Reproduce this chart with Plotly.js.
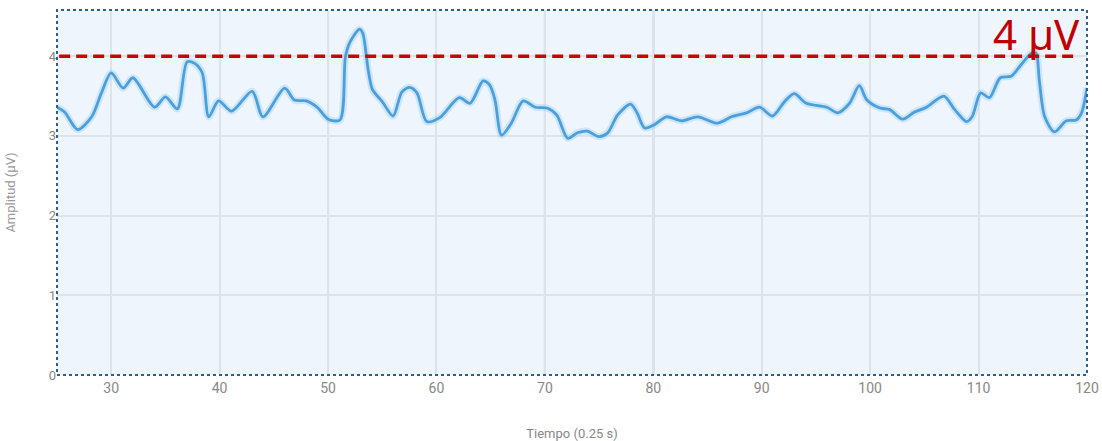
<!DOCTYPE html>
<html>
<head>
<meta charset="utf-8">
<script src="https://cdn.plot.ly/plotly-3.0.1.min.js"></script>
<style>html,body{margin:0;padding:0;background:#fff;}#chart{width:1102px;height:441px;}</style>
</head>
<body>
<div id="chart"></div>
<script>
var tiempo = [25,25.7,26.9,28.2,29.1,30.0,31.1,32.0,34.0,35.0,36.1,37.0,37.7,38.4,39.0,39.9,41.1,43.0,44.0,46.0,46.9,48.0,49.0,50.0,51.1,51.6,52.0,52.9,53.2,53.7,54.1,55.0,56.0,56.8,57.5,58.2,59.1,60.3,62.1,63.1,64.3,64.9,65.4,66.0,66.9,68.0,69.1,70.2,71.1,72.1,73.0,73.9,75.0,75.8,76.7,77.9,78.5,79.2,80.1,81.2,82.6,84.1,85.9,87.2,88.6,89.8,91.0,92.1,93.0,94.1,96.0,97.0,98.1,99.0,99.7,100.9,101.8,103.0,104.1,105.2,106.8,107.8,108.9,109.4,110.2,111.0,112.0,113.0,113.9,114.9,115.3,115.6,116.1,117.0,118.1,119.0,119.5,120.0];
var amplitud = [3.36,3.30,3.08,3.24,3.54,3.79,3.60,3.73,3.36,3.49,3.34,3.93,3.91,3.79,3.24,3.44,3.31,3.56,3.24,3.60,3.45,3.44,3.36,3.21,3.20,3.99,4.17,4.34,4.29,3.83,3.58,3.43,3.25,3.55,3.61,3.54,3.18,3.23,3.48,3.41,3.69,3.64,3.45,3.01,3.16,3.44,3.36,3.35,3.26,2.97,3.04,3.06,2.99,3.04,3.26,3.40,3.29,3.10,3.14,3.24,3.19,3.24,3.16,3.24,3.29,3.36,3.25,3.43,3.53,3.41,3.36,3.29,3.41,3.63,3.45,3.35,3.33,3.21,3.30,3.36,3.50,3.33,3.18,3.24,3.54,3.48,3.73,3.75,3.89,4.04,4.04,3.70,3.24,3.05,3.19,3.20,3.29,3.60];
var umbral = 4;
var umbralTexto = "4 µV";
var xTicks = [30,40,50,60,70,80,90,100,110,120];
var yTicks = [0,1,2,3,4];
var marcas = [50,70,80];

var traces = [
  {x: tiempo, y: amplitud, type: 'scatter', mode: 'lines', hoverinfo: 'skip',
   line: {color: 'rgba(140,200,245,0.35)', width: 7, shape: 'spline', smoothing: 0.8}},
  {x: tiempo, y: amplitud, type: 'scatter', mode: 'lines',
   line: {color: '#4a9fdc', width: 2.8, shape: 'spline', smoothing: 0.8}}
];

var shapes = marcas.map(function(m){
  return {type: 'line', xref: 'x', yref: 'paper', x0: m, x1: m, y0: 0, y1: 1,
          line: {color: 'rgba(150,180,210,0.75)', width: 2}, layer: 'below'};
});
shapes.push({type: 'line', xref: 'x', yref: 'y', x0: 25.2, x1: 119.2, y0: umbral, y1: umbral,
             line: {color: '#cc0000', width: 3.5, dash: '11px,6px'}});
shapes.push({type: 'rect', xref: 'paper', yref: 'paper', x0: 0, x1: 1, y0: 0, y1: 1,
             line: {color: '#2f5f8f', width: 2, dash: 'dot'}});

var layout = {
  width: 1102, height: 441,
  margin: {l: 57, r: 15, t: 10, b: 66},
  paper_bgcolor: '#ffffff',
  plot_bgcolor: '#eef5fc',
  showlegend: false,
  font: {family: 'Roboto, "Open Sans", sans-serif', color: '#888888', size: 13},
  xaxis: {range: [25, 120], tickvals: xTicks, ticktext: xTicks.map(String),
          showgrid: true, gridcolor: '#dde3ea', gridwidth: 2, zeroline: false,
          ticks: '', showline: false, ticklabelstandoff: 3, tickfont: {size: 14, color: '#888888'},
          title: {text: 'Tiempo (0.25 s)', font: {size: 13, color: '#888888'}, standoff: 34}},
  yaxis: {range: [0, 4.58], tickvals: yTicks, ticktext: yTicks.map(String),
          showgrid: true, gridcolor: '#dde3ea', gridwidth: 2, zeroline: false,
          ticks: '', showline: false, ticklabelstandoff: 0, tickfont: {size: 13, color: '#888888'},
          title: {text: 'Amplitud (µV)', font: {size: 13, color: '#999999'}, standoff: 30}},
  shapes: shapes,
  annotations: [{xref: 'paper', yref: 'y', x: 0.995, y: umbral, xanchor: 'right', yanchor: 'bottom',
                 text: umbralTexto, showarrow: false, yshift: -8,
                 font: {family: '"Noto Sans", sans-serif', size: 42, color: '#c00000'}}]
};

Plotly.newPlot('chart', traces, layout, {displayModeBar: false, staticPlot: true});
</script>
</body>
</html>
